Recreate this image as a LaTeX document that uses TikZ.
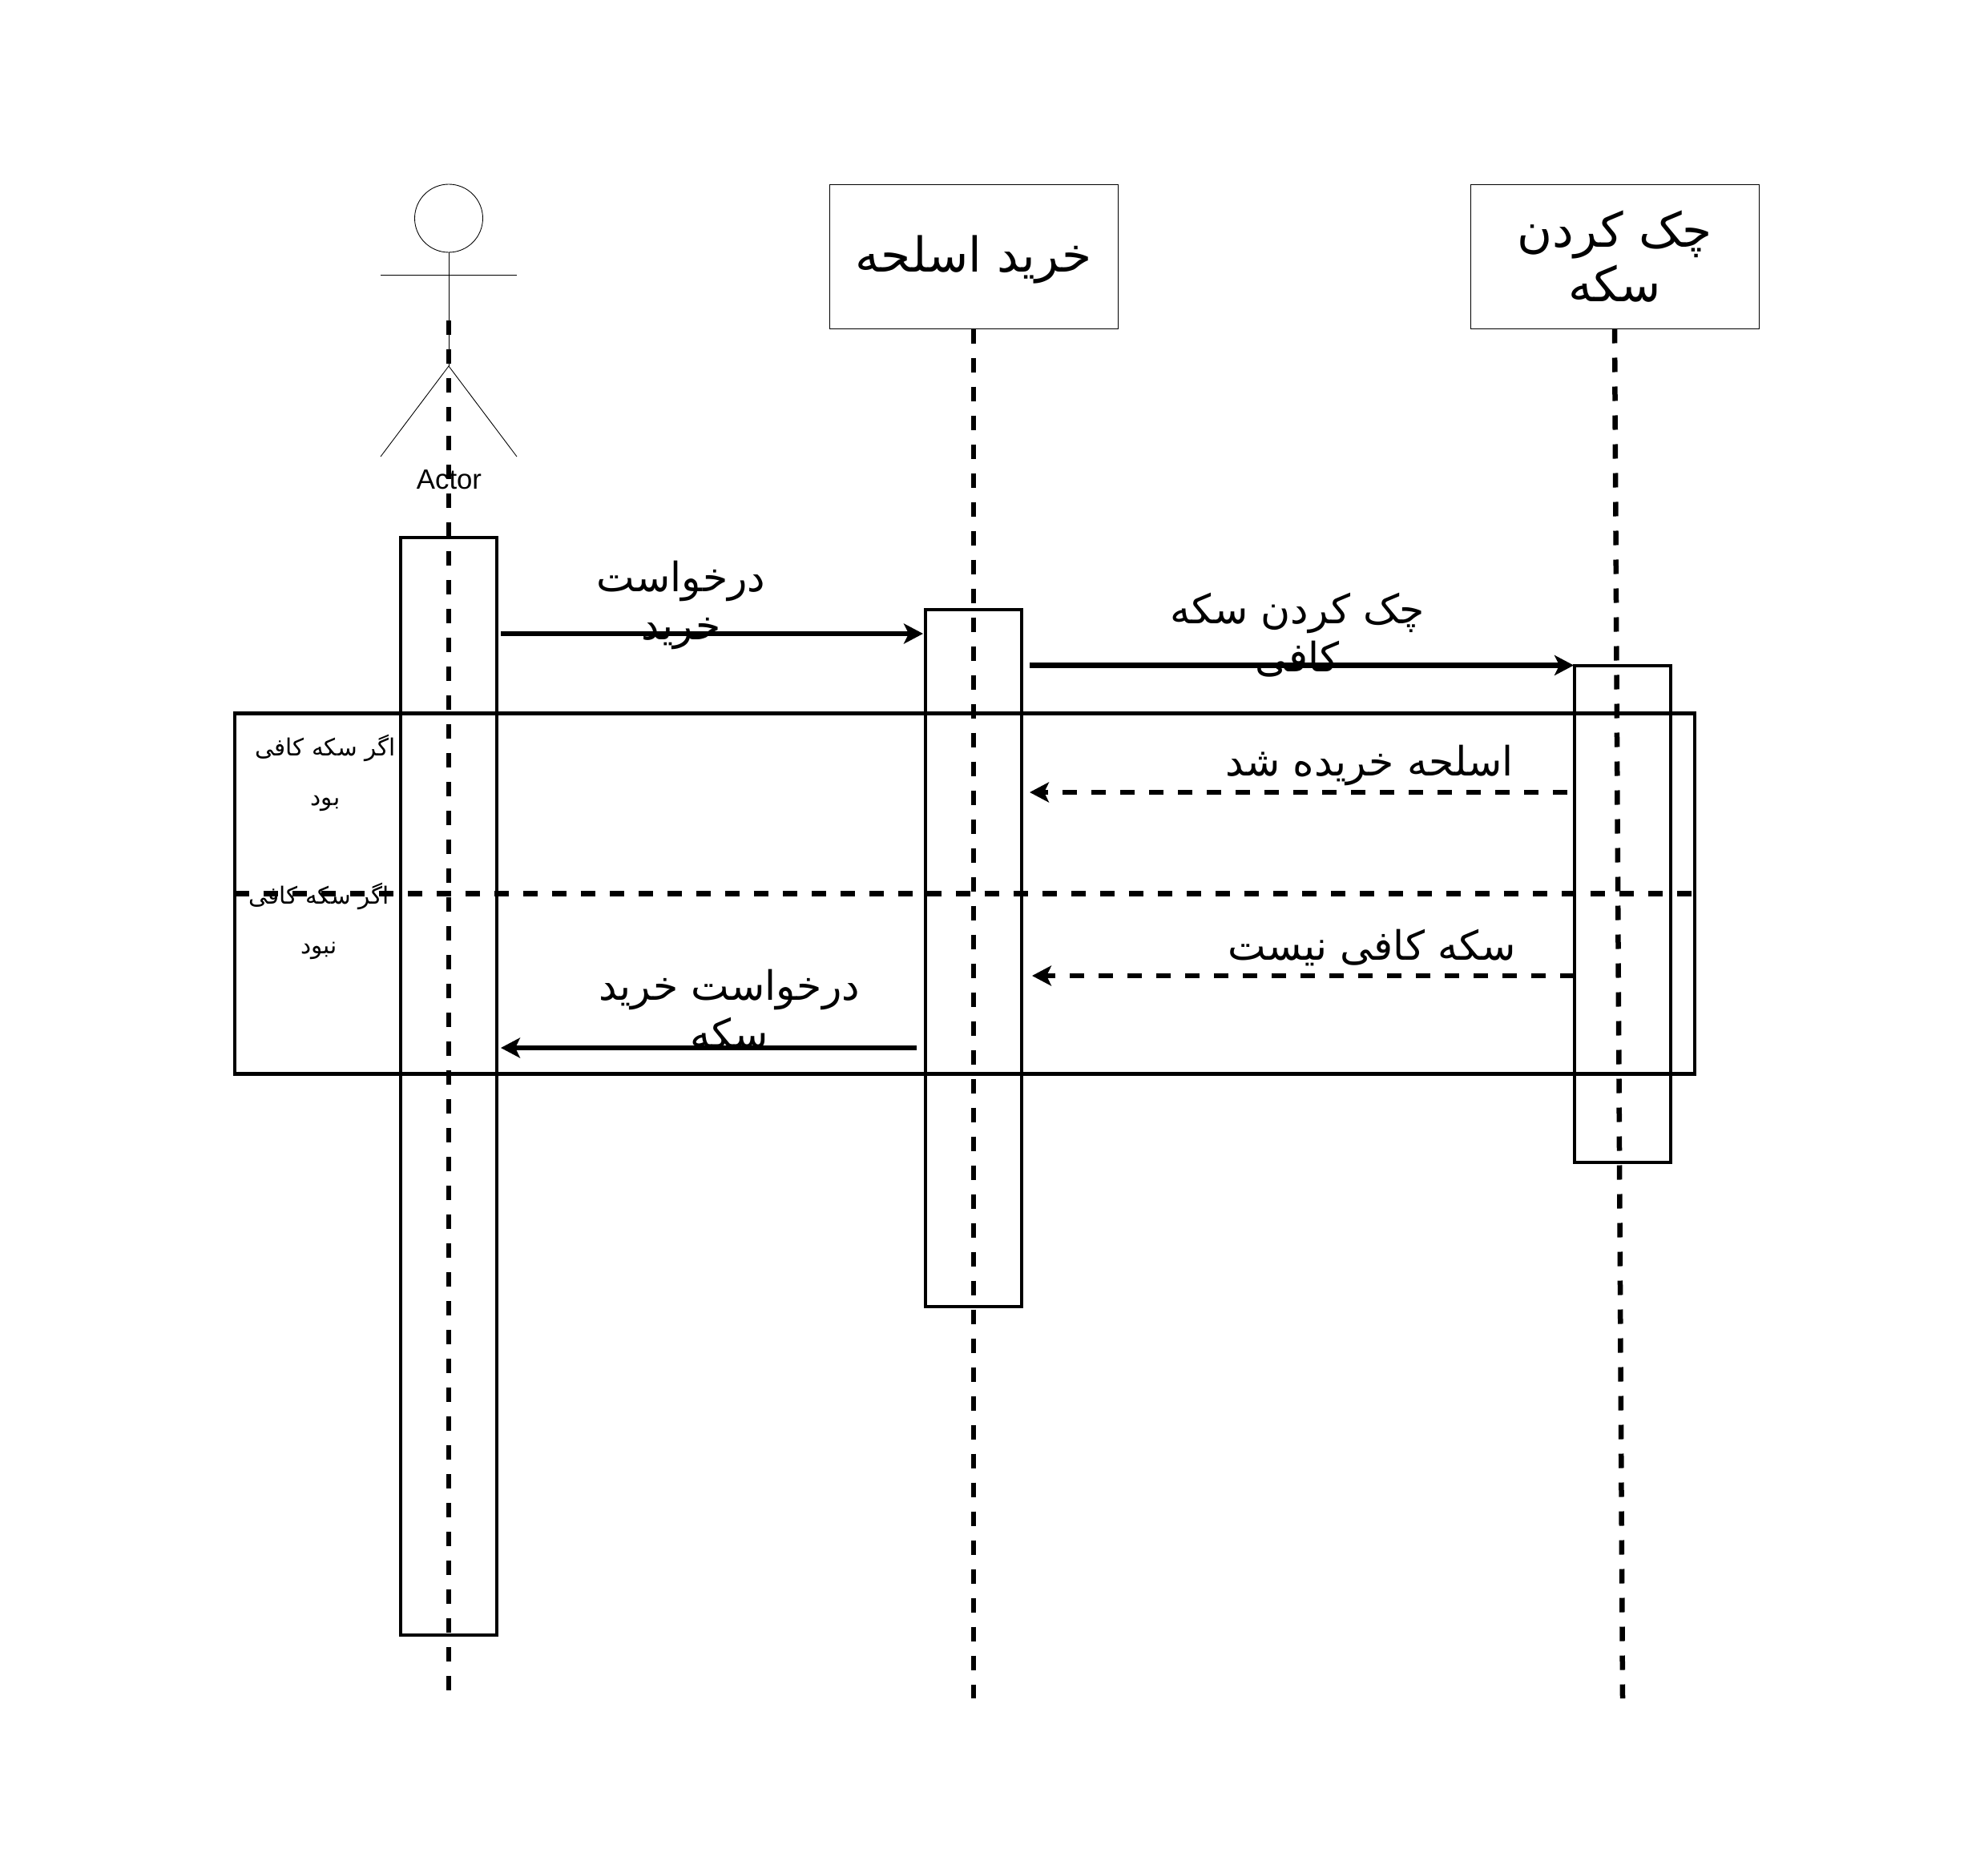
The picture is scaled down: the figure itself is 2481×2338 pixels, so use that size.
\documentclass[tikz,border=0pt]{standalone}
\usepackage{fontspec}
\usepackage{tikz}
\usetikzlibrary{arrows.meta}
\setmainfont{Liberation Sans}
\newfontfamily\arabicfont[Script=Arabic]{DejaVu Sans}
\TeXXeTstate=1
\newcommand{\fa}[1]{\beginR #1\endR}
\tikzset{
    headbox/.style={draw, line width=0.4pt, inner sep=0pt, outer sep=0pt, minimum width=144pt, minimum height=72pt, align=center, font=\arabicfont\fontsize{24}{27.2}\selectfont},
    bar/.style={draw, line width=1.7pt, inner sep=0pt, outer sep=0pt, minimum width=48pt},
    lifeline/.style={line width=2.6pt, dash pattern=on 7.2pt off 7.2pt},
    msg/.style={line width=2.6pt, -{Stealth[length=9.6pt, width=10pt, inset=2.4pt]}},
    reply/.style={msg, dash pattern=on 7.2pt off 7.2pt},
    msgtext/.style={inner sep=0pt, align=center, font=\arabicfont\fontsize{20.2}{24}\selectfont},
    smalltext/.style={inner sep=0pt, align=center, font=\arabicfont\fontsize{11.8}{24.8}\selectfont},
    stick/.style={line width=0.35pt}
}
\begin{document}
\begin{tikzpicture}[x=0.4pt, y=-0.4pt]
    \useasboundingbox (0,0) rectangle (2481,2338);
    % actor
    \node[circle, draw, stick, inner sep=0pt, outer sep=0pt, minimum size=34pt] (head) at (560,272.5) {};
    \coordinate (armL) at (475,343.5);
    \coordinate (armR) at (645,343.5);
    \coordinate (hip) at (560,457);
    \coordinate (footL) at (475,570);
    \coordinate (footR) at (645,570);
    \draw[stick] (head.south) -- (hip);
    \draw[stick] (armL) -- (armR);
    \draw[stick] (footL) -- (hip) -- (footR);
    \node[inner sep=0pt, font=\fontsize{13.9}{16}\selectfont] (actor) at (560.5,599) {Actor};
    % heads
    \node[headbox] (buy) at (1215,320.5) {\raisebox{-1.6pt}[\height][\depth]{\fa{خرید اسلحه}}};
    \node[headbox] (check) at (2015,320.5) {\fa{چک کردن}\\\fa{سکه}};
    % bars and frame
    \node[bar, minimum height=548pt] (actorbar) at (560,1356) {};
    \node[bar, minimum height=348pt] (buybar) at (1215,1196) {};
    \node[bar, minimum height=248pt] (checkbar) at (2025,1141) {};
    \node[draw, line width=1.7pt, inner sep=0pt, outer sep=0pt, minimum width=729pt, minimum height=180pt] (alt) at (1204,1115.5) {};
    % lifelines
    \coordinate (actorTop) at (560,400);
    \coordinate (actorEnd) at (560,2110);
    \coordinate (buyEnd) at (1215,2120);
    \coordinate (checkEnd) at (2025,2120);
    \draw[lifeline] (actorTop) -- (actorEnd);
    \draw[lifeline] (buy.south) -- (buyEnd);
    \draw[lifeline] (check.south) -- (checkEnd);
    \draw[lifeline] (alt.west) -- (alt.east);
    % messages
    \coordinate (P1) at (625,791);
    \coordinate (Q1) at (1152,791);
    \coordinate (P2) at (1285,830.5);
    \coordinate (Q2) at (1964,830.5);
    \coordinate (P3) at (1956,989);
    \coordinate (Q3) at (1285,989);
    \coordinate (P4) at (1965,1218);
    \coordinate (Q4) at (1288,1218);
    \coordinate (P5) at (1144,1308);
    \coordinate (Q5) at (625,1308);
    \draw[msg] (P1) -- (Q1);
    \draw[msg] (P2) -- (Q2);
    \draw[reply] (P3) -- (Q3);
    \draw[reply] (P4) -- (Q4);
    \draw[msg] (P5) -- (Q5);
    % labels
    \node[msgtext] (t1) at (850,755) {\fa{درخواست}\\\fa{خرید}};
    \node[msgtext] (t2) at (1619,793) {\fa{چک کردن سکه}\\\fa{کافی}};
    \node[msgtext] (t3) at (1709,955) {\fa{اسلحه خریده شد}};
    \node[msgtext] (t4) at (1712,1183) {\fa{سکه کافی نیست}};
    \node[msgtext] (t5) at (910,1260) {\fa{درخواست خرید}\\\fa{سکه}};
    \node[smalltext] (yes) at (406,965) {\fa{اگر سکه کافی}\\\fa{بود}};
    \node[smalltext] (no) at (398,1150) {\fa{اگر سکه کافی}\\\fa{نبود}};
\end{tikzpicture}
\end{document}
